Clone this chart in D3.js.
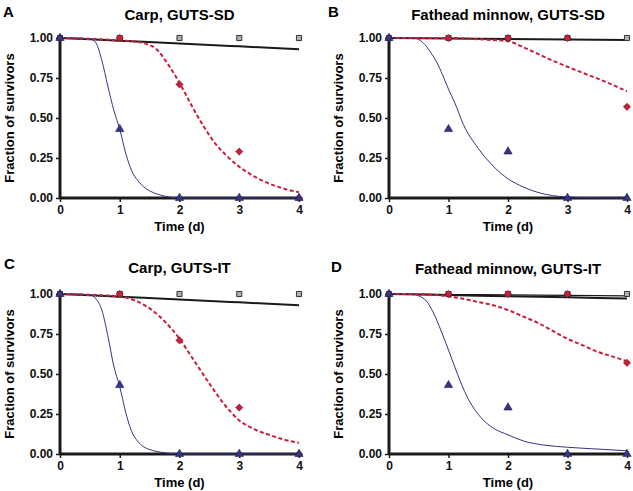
<!DOCTYPE html>
<html><head><meta charset="utf-8">
<script src="https://cdn.jsdelivr.net/npm/d3@7"></script>
<style>body{margin:0;background:#fff}svg{display:block;font-family:"Liberation Sans",Arial,sans-serif}</style>
</head><body>
<script>
// ---- data ----
const timeTicks = [0, 1, 2, 3, 4];
const survTicks = [0, 0.25, 0.5, 0.75, 1];
const panelLetters = ["A", "B", "C", "D"];
const panelTitles = ["Carp, GUTS-SD", "Fathead minnow, GUTS-SD", "Carp, GUTS-IT", "Fathead minnow, GUTS-IT"];
const xLabel = "Time (d)";
const yLabel = "Fraction of survivors";

const obsTime = [0, 1, 2, 3, 4];
const carpControlObs = [1, 1, 1, 1, 1];
const carpLowObs = [1, 1, 0.71, 0.29, 0];
const carpHighObs = [1, 0.43, 0, 0, 0];
const fhmControlObs = [1, 1, 1, 1, 1];
const fhmLowObs = [1, 1, 1, 1, 0.57];
const fhmHighObs = [1, 0.43, 0.29, 0, 0];

// fitted curves [time, survival]
const carpSdControlFit = [[0,1],[1,0.983],[2,0.966],[3,0.948],[4,0.93]];
const carpSdLowFit = [[0,1],[0.5,0.995],[1,0.985],[1.25,0.978],[1.45,0.962],[1.6,0.935],[1.8,0.84],[2,0.72],[2.2,0.58],[2.4,0.45],[2.6,0.34],[2.8,0.26],[3,0.195],[3.25,0.135],[3.5,0.09],[3.75,0.058],[4,0.036]];
const carpSdHighFit = [[0,1],[0.25,1],[0.5,0.995],[0.6,0.97],[0.7,0.86],[0.8,0.7],[0.9,0.55],[1,0.43],[1.1,0.28],[1.2,0.17],[1.3,0.11],[1.4,0.07],[1.5,0.045],[1.75,0.012],[2,0],[3,0],[4,0]];

const fhmSdControlFit = [[0,1],[1,0.997],[2,0.994],[3,0.991],[4,0.988]];
const fhmSdLowFit = [[0,1],[1,1],[1.6,0.99],[2,0.98],[2.27,0.94],[2.71,0.865],[3,0.82],[3.27,0.78],[3.55,0.74],[4,0.667]];
const fhmSdHighFit = [[0,1],[0.4,1],[0.5,0.99],[0.6,0.96],[0.7,0.91],[0.8,0.85],[0.9,0.77],[1,0.68],[1.1,0.6],[1.25,0.46],[1.5,0.31],[1.75,0.2],[2,0.12],[2.25,0.07],[2.5,0.035],[2.75,0.015],[3,0.006],[3.5,0.001],[4,0]];

const carpItControlFit = [[0,1],[1,0.983],[2,0.966],[3,0.948],[4,0.93]];
const carpItLowFit = [[0,1],[0.5,0.995],[1,0.985],[1.25,0.96],[1.5,0.91],[1.75,0.83],[2,0.72],[2.25,0.58],[2.5,0.44],[2.75,0.31],[3,0.21],[3.25,0.155],[3.5,0.12],[3.75,0.09],[4,0.07]];
const carpItHighFit = [[0,1],[0.25,1],[0.5,0.995],[0.6,0.97],[0.7,0.9],[0.8,0.74],[0.9,0.55],[1,0.42],[1.1,0.26],[1.2,0.14],[1.3,0.08],[1.4,0.045],[1.5,0.028],[1.75,0.008],[2,0],[3,0],[4,0]];

const fhmItControlFit = [[0,1],[1,0.993],[2,0.986],[3,0.979],[4,0.972]];
const fhmItControlFit2 = [[0,1],[1,0.997],[2,0.994],[3,0.991],[4,0.988]];
const fhmItLowFit = [[0,1],[0.5,1],[1,0.985],[1.25,0.97],[1.5,0.95],[1.75,0.93],[2,0.9],[2.25,0.86],[2.5,0.82],[2.75,0.77],[3,0.72],[3.25,0.68],[3.5,0.64],[3.75,0.61],[4,0.58]];
const fhmItHighFit = [[0,1],[0.36,1],[0.59,0.97],[0.75,0.88],[0.87,0.775],[1,0.65],[1.15,0.5],[1.31,0.36],[1.54,0.23],[1.76,0.16],[2,0.12],[2.27,0.08],[2.6,0.056],[3,0.042],[3.55,0.03],[4,0.02]];

// ---- layout ----
const W = 633, H = 491;
const panels = [
  {left:60, right:299, top:38, bottom:198, titleY:20, letterX:3, letterY:17, ylabX:14,
   obs:[carpControlObs, carpLowObs, carpHighObs], fits:[[carpSdControlFit], carpSdLowFit, carpSdHighFit]},
  {left:389, right:627, top:38, bottom:198, titleY:20, letterX:328, letterY:17, ylabX:343,
   obs:[fhmControlObs, fhmLowObs, fhmHighObs], fits:[[fhmSdControlFit], fhmSdLowFit, fhmSdHighFit]},
  {left:60, right:299, top:294, bottom:454, titleY:273, letterX:4, letterY:269, ylabX:14,
   obs:[carpControlObs, carpLowObs, carpHighObs], fits:[[carpItControlFit], carpItLowFit, carpItHighFit]},
  {left:389, right:627, top:294, bottom:454, titleY:274, letterX:331, letterY:272, ylabX:343,
   obs:[fhmControlObs, fhmLowObs, fhmHighObs], fits:[[fhmItControlFit, fhmItControlFit2], fhmItLowFit, fhmItHighFit]}
];

const RED = "#c8203a", BLUE = "#34348a", BLACK = "#1a1a1a";

const svg = d3.select("body").append("svg").attr("width", W).attr("height", H);

panels.forEach((p, i) => {
  const x = d3.scaleLinear().domain([0, 4]).range([p.left, p.right]);
  const y = d3.scaleLinear().domain([0, 1]).range([p.bottom, p.top]);
  const g = svg.append("g");

  // letter and title
  g.append("text").attr("x", p.letterX).attr("y", p.letterY).attr("font-size", 15).attr("font-weight", "bold").text(panelLetters[i]);
  g.append("text").attr("x", (p.left + p.right) / 2).attr("y", p.titleY).attr("text-anchor", "middle")
    .attr("font-size", 15).attr("font-weight", "bold").text(panelTitles[i]);

  // axes
  const xa = g.append("g").attr("transform", `translate(0,${p.bottom})`)
    .call(d3.axisBottom(x).tickValues(timeTicks).tickFormat(d3.format("d")).tickSize(4).tickPadding(3));
  const ya = g.append("g").attr("transform", `translate(${p.left},0)`)
    .call(d3.axisLeft(y).tickValues(survTicks).tickFormat(d3.format(".2f")).tickSize(4).tickPadding(3));
  [xa, ya].forEach(a => {
    a.select(".domain").attr("stroke", BLACK).attr("stroke-width", 3);
    a.selectAll(".tick line").attr("stroke", BLACK).attr("stroke-width", 1.5);
    a.selectAll("text").attr("font-size", 12).attr("font-weight", "bold").attr("fill", "#111")
      .attr("font-family", "'Liberation Sans',Arial,sans-serif");
  });
  xa.select(".domain").attr("d", `M${p.left},0H${p.right}`);
  ya.select(".domain").attr("d", `M0,${p.bottom}V${p.top}`);

  // axis labels
  g.append("text").attr("x", (p.left + p.right) / 2).attr("y", p.bottom + 33).attr("text-anchor", "middle")
    .attr("font-size", 13).attr("font-weight", "bold").text(xLabel);
  g.append("text").attr("transform", `translate(${p.ylabX},${(p.top + p.bottom) / 2}) rotate(-90)`)
    .attr("text-anchor", "middle").attr("font-size", 13).attr("font-weight", "bold").text(yLabel);

  const line = d3.line().x(d => x(d[0])).y(d => y(d[1])).curve(d3.curveMonotoneX);

  // fitted curves
  p.fits[0].forEach((f, k) => {
    g.append("path").datum(f).attr("d", line).attr("fill", "none").attr("stroke", BLACK).attr("stroke-width", k === 0 ? 2 : 1.2);
  });
  g.append("path").datum(p.fits[2]).attr("d", line).attr("fill", "none").attr("stroke", BLUE).attr("stroke-width", 1);
  g.append("path").datum(p.fits[1]).attr("d", line).attr("fill", "none").attr("stroke", RED).attr("stroke-width", 2).attr("stroke-dasharray", "4,2.5");

  // observations
  const sq = d3.symbol().type(d3.symbolSquare).size(26);
  const dia = d3.symbol().type(d3.symbolSquare).size(26);
  const tri = d3.symbol().type(d3.symbolTriangle).size(30);
  g.selectAll(".ctl").data(obsTime.map((t, j) => [t, p.obs[0][j]])).join("path")
    .attr("transform", d => `translate(${x(d[0])},${y(d[1])})`).attr("d", sq)
    .attr("fill", "#b0b0b0").attr("stroke", "#333").attr("stroke-width", 1);
  g.selectAll(".low").data(obsTime.map((t, j) => [t, p.obs[1][j]])).join("path")
    .attr("transform", d => `translate(${x(d[0])},${y(d[1])}) rotate(45)`).attr("d", dia)
    .attr("fill", RED).attr("stroke", "#8a1020").attr("stroke-width", 0.6);
  g.selectAll(".high").data(obsTime.map((t, j) => [t, p.obs[2][j]])).join("path")
    .attr("transform", d => `translate(${x(d[0])},${y(d[1])})`).attr("d", tri)
    .attr("fill", BLUE).attr("stroke", "#1a1a50").attr("stroke-width", 0.6);
});
</script>
</body></html>
